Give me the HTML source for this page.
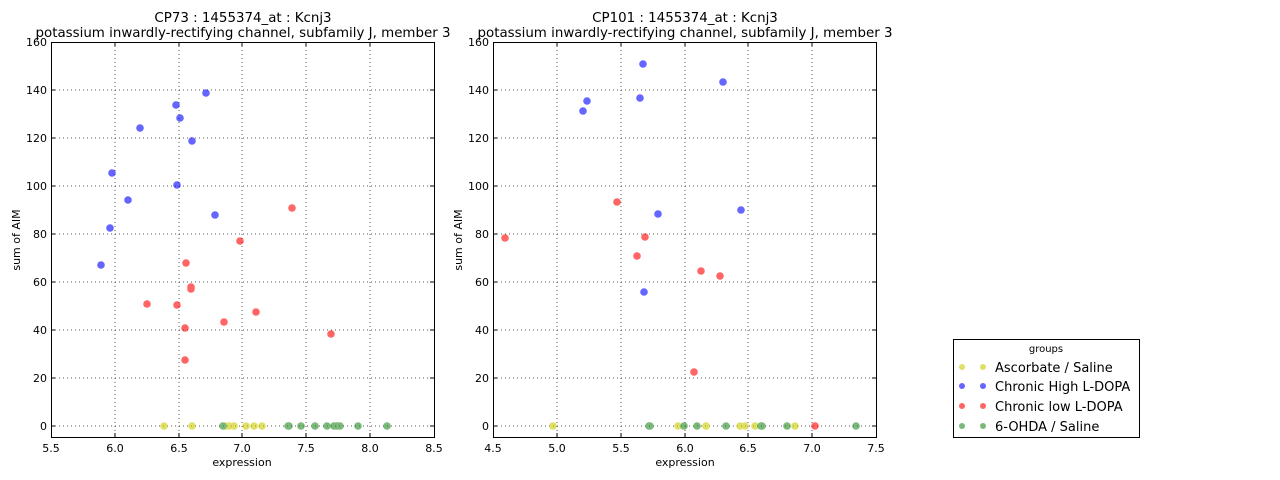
<!DOCTYPE html>
<html><head><style>body{margin:0;background:#fff}svg{display:block}text{font-family:"DejaVu Sans","Liberation Sans",sans-serif;fill:#000}</style></head><body>
<svg width="1280" height="480" xmlns="http://www.w3.org/2000/svg">
<rect width="1280" height="480" fill="#fff"/>
<g stroke="#555" stroke-width="1" stroke-dasharray="1,3">
<line x1="115" y1="42" x2="115" y2="437"/><line x1="179" y1="42" x2="179" y2="437"/><line x1="242" y1="42" x2="242" y2="437"/><line x1="306" y1="42" x2="306" y2="437"/><line x1="370" y1="42" x2="370" y2="437"/>
<line x1="51" y1="426" x2="434" y2="426"/><line x1="51" y1="378" x2="434" y2="378"/><line x1="51" y1="330" x2="434" y2="330"/><line x1="51" y1="282" x2="434" y2="282"/><line x1="51" y1="234" x2="434" y2="234"/><line x1="51" y1="186" x2="434" y2="186"/><line x1="51" y1="138" x2="434" y2="138"/><line x1="51" y1="90" x2="434" y2="90"/>
<line x1="557" y1="42" x2="557" y2="437"/><line x1="621" y1="42" x2="621" y2="437"/><line x1="685" y1="42" x2="685" y2="437"/><line x1="748" y1="42" x2="748" y2="437"/><line x1="812" y1="42" x2="812" y2="437"/>
<line x1="493" y1="426" x2="876" y2="426"/><line x1="493" y1="378" x2="876" y2="378"/><line x1="493" y1="330" x2="876" y2="330"/><line x1="493" y1="282" x2="876" y2="282"/><line x1="493" y1="234" x2="876" y2="234"/><line x1="493" y1="186" x2="876" y2="186"/><line x1="493" y1="138" x2="876" y2="138"/><line x1="493" y1="90" x2="876" y2="90"/>
</g>
<g opacity="0.6">
<g fill="#cccc00">
<circle cx="164" cy="426" r="3.8"/><circle cx="192" cy="426" r="3.8"/><circle cx="225" cy="426" r="3.8"/><circle cx="229" cy="426" r="3.8"/><circle cx="234" cy="426" r="3.8"/><circle cx="246" cy="426" r="3.8"/><circle cx="254" cy="426" r="3.8"/><circle cx="262" cy="426" r="3.8"/>
<circle cx="553" cy="426" r="3.8"/><circle cx="678" cy="426" r="3.8"/><circle cx="706" cy="426" r="3.8"/><circle cx="740" cy="426" r="3.8"/><circle cx="745" cy="426" r="3.8"/><circle cx="755" cy="426" r="3.8"/><circle cx="795" cy="426" r="3.8"/><circle cx="706" cy="426" r="3.8"/>
</g>
<g fill="#228b22">
<circle cx="223" cy="426" r="3.8"/><circle cx="288" cy="426" r="3.8"/><circle cx="289" cy="426" r="3.8"/><circle cx="301" cy="426" r="3.8"/><circle cx="315" cy="426" r="3.8"/><circle cx="327" cy="426" r="3.8"/><circle cx="334" cy="426" r="3.8"/><circle cx="337" cy="426" r="3.8"/><circle cx="340" cy="426" r="3.8"/><circle cx="358" cy="426" r="3.8"/><circle cx="387" cy="426" r="3.8"/>
<circle cx="649" cy="426" r="3.8"/><circle cx="650" cy="426" r="3.8"/><circle cx="684" cy="426" r="3.8"/><circle cx="697" cy="426" r="3.8"/><circle cx="726" cy="426" r="3.8"/><circle cx="761" cy="426" r="3.8"/><circle cx="762" cy="426" r="3.8"/><circle cx="787" cy="426" r="3.8"/><circle cx="856" cy="426" r="3.8"/>
</g>
<g fill="#0000ff">
<circle cx="176" cy="105" r="3.8"/><circle cx="206" cy="93" r="3.8"/><circle cx="180" cy="118" r="3.8"/><circle cx="140" cy="128" r="3.8"/><circle cx="192" cy="141" r="3.8"/><circle cx="112" cy="173" r="3.8"/><circle cx="177" cy="185" r="3.8"/><circle cx="128" cy="200" r="3.8"/><circle cx="215" cy="215" r="3.8"/><circle cx="110" cy="228" r="3.8"/><circle cx="101" cy="265" r="3.8"/>
<circle cx="643" cy="64" r="3.8"/><circle cx="723" cy="82" r="3.8"/><circle cx="587" cy="101" r="3.8"/><circle cx="640" cy="98" r="3.8"/><circle cx="583" cy="111" r="3.8"/><circle cx="741" cy="210" r="3.8"/><circle cx="658" cy="214" r="3.8"/><circle cx="644" cy="292" r="3.8"/>
</g>
<g fill="#ff0000">
<circle cx="292" cy="208" r="3.8"/><circle cx="240" cy="241" r="3.8"/><circle cx="186" cy="263" r="3.8"/><circle cx="191" cy="287" r="3.8"/><circle cx="191" cy="289" r="3.8"/><circle cx="147" cy="304" r="3.8"/><circle cx="177" cy="305" r="3.8"/><circle cx="185" cy="328" r="3.8"/><circle cx="224" cy="322" r="3.8"/><circle cx="256" cy="312" r="3.8"/><circle cx="331" cy="334" r="3.8"/><circle cx="185" cy="360" r="3.8"/>
<circle cx="617" cy="202" r="3.8"/><circle cx="505" cy="238" r="3.8"/><circle cx="645" cy="237" r="3.8"/><circle cx="637" cy="256" r="3.8"/><circle cx="701" cy="271" r="3.8"/><circle cx="720" cy="276" r="3.8"/><circle cx="694" cy="372" r="3.8"/><circle cx="815" cy="426" r="3.8"/>
</g>
</g>
<g fill="none" stroke="#000" stroke-width="1">
<rect x="51.5" y="42.5" width="383" height="395"/>
<rect x="493.5" y="42.5" width="383" height="395"/>
<rect x="953.5" y="339.5" width="186" height="98"/>
</g>
<g stroke="#000">
<path d="M115 437v-4M179 437v-4M242 437v-4M306 437v-4M370 437v-4M115 42v4M179 42v4M242 42v4M306 42v4M370 42v4"/>
<path d="M51 426h4M51 378h4M51 330h4M51 282h4M51 234h4M51 186h4M51 138h4M51 90h4M434 426h-4M434 378h-4M434 330h-4M434 282h-4M434 234h-4M434 186h-4M434 138h-4M434 90h-4"/>
<path d="M557 437v-4M621 437v-4M685 437v-4M748 437v-4M812 437v-4M557 42v4M621 42v4M685 42v4M748 42v4M812 42v4"/>
<path d="M493 426h4M493 378h4M493 330h4M493 282h4M493 234h4M493 186h4M493 138h4M493 90h4M876 426h-4M876 378h-4M876 330h-4M876 282h-4M876 234h-4M876 186h-4M876 138h-4M876 90h-4"/>
</g>
<g font-size="11" text-anchor="middle">
<text x="51" y="452">5.5</text><text x="115" y="452">6.0</text><text x="179" y="452">6.5</text><text x="242" y="452">7.0</text><text x="306" y="452">7.5</text><text x="370" y="452">8.0</text><text x="434" y="452">8.5</text>
<text x="493" y="452">4.5</text><text x="557" y="452">5.0</text><text x="621" y="452">5.5</text><text x="685" y="452">6.0</text><text x="748" y="452">6.5</text><text x="812" y="452">7.0</text><text x="876" y="452">7.5</text>
<text x="242" y="466">expression</text><text x="685" y="466">expression</text>
</g>
<g font-size="11" text-anchor="end">
<text x="47" y="430">0</text><text x="47" y="382">20</text><text x="47" y="334">40</text><text x="47" y="286">60</text><text x="47" y="238">80</text><text x="47" y="190">100</text><text x="47" y="142">120</text><text x="47" y="94">140</text><text x="47" y="46">160</text>
<text x="489" y="430">0</text><text x="489" y="382">20</text><text x="489" y="334">40</text><text x="489" y="286">60</text><text x="489" y="238">80</text><text x="489" y="190">100</text><text x="489" y="142">120</text><text x="489" y="94">140</text><text x="489" y="46">160</text>
</g>
<text font-size="11" text-anchor="middle" transform="translate(20,240) rotate(-90)">sum of AIM</text>
<text font-size="11" text-anchor="middle" transform="translate(462,240) rotate(-90)">sum of AIM</text>
<g font-size="13.4" text-anchor="middle">
<text x="243" y="22">CP73 : 1455374_at : Kcnj3</text>
<text x="243" y="37">potassium inwardly-rectifying channel, subfamily J, member 3</text>
<text x="685" y="22">CP101 : 1455374_at : Kcnj3</text>
<text x="685" y="37">potassium inwardly-rectifying channel, subfamily J, member 3</text>
</g>
<text x="1046" y="352" font-size="10" text-anchor="middle">groups</text>
<g opacity="0.6">
<circle cx="962" cy="367" r="3" fill="#cccc00"/><circle cx="983" cy="367" r="3" fill="#cccc00"/>
<circle cx="962" cy="386" r="3" fill="#0000ff"/><circle cx="983" cy="386" r="3" fill="#0000ff"/>
<circle cx="962" cy="406" r="3" fill="#ff0000"/><circle cx="983" cy="406" r="3" fill="#ff0000"/>
<circle cx="962" cy="426" r="3" fill="#228b22"/><circle cx="983" cy="426" r="3" fill="#228b22"/>
</g>
<g font-size="13">
<text x="995" y="372">Ascorbate / Saline</text>
<text x="995" y="391">Chronic High L-DOPA</text>
<text x="995" y="411">Chronic low L-DOPA</text>
<text x="995" y="431">6-OHDA / Saline</text>
</g>
</svg>
</body></html>
